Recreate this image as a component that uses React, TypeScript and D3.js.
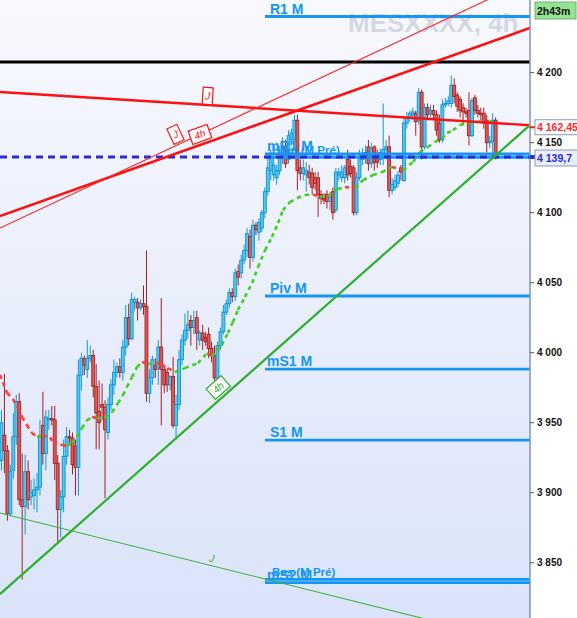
import React from 'react';
import * as d3 from 'd3';

// ---------- DATA ----------
// OHLC candles, 4h, [open, high, low, close]
const candles: [number, number, number, number][] = [
  [3923,3959,3916,3950],[3941,3985,3914,3930],[3930,3934,3880,3885],[3885,3920,3883,3915],
  [3916,3957,3910,3940],[3940,3970,3934,3965],[3965,3971,3891,3895],[3895,3928,3838,3890],
  [3890,3927,3870,3915],[3915,3923,3888,3895],[3897,3909,3891,3900],[3898,3910,3888,3902],
  [3902,3914,3886,3904],[3904,3952,3898,3941],[3948,3972,3920,3928],[3928,3959,3916,3954],
  [3952,3959,3945,3953],[3953,3962,3948,3952],[3952,3962,3909,3921],[3921,3927,3865,3888],
  [3888,3902,3868,3897],[3897,3938,3886,3926],[3926,3947,3920,3940],[3940,3945,3934,3939],
  [3939,3943,3913,3920],[3933,3938,3898,3918],[3918,3995,3898,3984],[3984,4000,3973,3996],
  [3996,3998,3984,3991],[3988,4009,3982,3996],[3996,4005,3993,3998],[3998,4002,3968,3976],
  [3976,3992,3931,3957],[3958,3980,3931,3950],[3963,3978,3952,3961],[3961,3966,3896,3945],
  [3943,3968,3938,3963],[3963,3981,3959,3977],[3977,3995,3970,3986],[3986,3993,3982,3990],
  [3990,3996,3982,3986],[3986,4009,3980,4004],[4004,4034,3998,4025],[4025,4035,4005,4010],
  [4010,4043,4009,4038],[4036,4040,4030,4038],[4036,4039,4023,4032],[4032,4038,4030,4035],
  [4035,4048,4027,4033],[4033,4073,3965,3971],[3971,3988,3964,3982],[3982,3998,3977,3995],
  [3991,3996,3982,3988],[3989,4009,3977,4004],[4004,4039,3948,3988],[3988,3991,3971,3977],
  [3986,3989,3972,3977],[3977,3984,3973,3983],[3983,3997,3946,3948],[3948,3970,3938,3963],
  [3963,4002,3959,3995],[3995,4013,3991,4009],[4009,4028,4005,4016],[4016,4030,4010,4020],
  [4023,4027,4005,4018],[4018,4030,4013,4023],[4025,4030,4002,4014],[4009,4016,4005,4014],
  [4014,4020,4002,4009],[4011,4015,4005,4008],[4013,4018,3996,4003],[4003,4008,3993,3998],
  [3998,4005,3980,3982],[3982,4008,3980,4005],[4005,4018,4002,4015],[4015,4034,4013,4029],
  [4029,4038,4027,4035],[4035,4046,4032,4043],[4043,4046,4036,4040],[4040,4060,4037,4057],
  [4058,4063,4048,4054],[4057,4070,4053,4066],[4066,4077,4063,4073],[4073,4089,4068,4085],
  [4083,4088,4060,4068],[4068,4095,4065,4091],[4091,4093,4084,4088],[4086,4096,4080,4093],
  [4089,4102,4086,4100],[4100,4118,4096,4115],[4115,4139,4112,4132],[4130,4145,4123,4139],
  [4127,4141,4123,4134],[4125,4134,4120,4130],[4130,4145,4127,4139],[4139,4154,4135,4147],
  [4147,4152,4132,4135],[4138,4159,4135,4155],[4152,4160,4148,4157],[4152,4170,4148,4166],
  [4166,4170,4116,4130],[4132,4138,4123,4128],[4128,4138,4123,4132],[4127,4136,4115,4130],
  [4129,4134,4120,4125],[4128,4132,4113,4118],[4125,4129,4116,4121],[4125,4129,4097,4113],
  [4113,4116,4106,4110],[4110,4114,4106,4109],[4113,4116,4103,4108],[4108,4115,4102,4111],
  [4115,4118,4095,4100],[4102,4132,4100,4129],[4127,4132,4123,4129],[4125,4134,4122,4129],
  [4125,4134,4121,4132],[4138,4145,4123,4127],[4133,4138,4125,4128],[4132,4134,4098,4100],
  [4100,4129,4098,4125],[4125,4145,4123,4139],[4138,4146,4134,4141],[4140,4148,4135,4143],
  [4147,4152,4130,4135],[4135,4150,4132,4146],[4147,4148,4130,4136],[4141,4145,4132,4136],
  [4138,4146,4134,4143],[4139,4178,4134,4145],[4145,4152,4138,4147],[4147,4155,4111,4116],
  [4116,4125,4113,4120],[4118,4127,4116,4123],[4121,4130,4118,4127],[4132,4134,4123,4129],
  [4123,4168,4122,4164],[4164,4172,4160,4168],[4168,4173,4165,4171],[4170,4175,4166,4172],
  [4171,4173,4155,4165],[4166,4189,4163,4186],[4186,4188,4138,4147],[4147,4178,4145,4175],
  [4175,4178,4166,4170],[4171,4177,4168,4173],[4173,4177,4166,4170],[4170,4173,4155,4159],
  [4164,4170,4150,4152],[4152,4181,4150,4177],[4177,4182,4175,4178],[4178,4183,4176,4180],
  [4178,4198,4175,4191],[4191,4196,4178,4183],[4184,4186,4172,4176],[4181,4183,4168,4173],
  [4175,4178,4163,4172],[4172,4175,4168,4171],[4173,4186,4148,4155],[4155,4182,4154,4180],
  [4182,4184,4170,4173],[4173,4177,4168,4171],[4171,4175,4166,4170],[4171,4175,4160,4164],
  [4166,4170,4143,4150],[4150,4155,4146,4151],[4151,4171,4139,4166],[4166,4168,4138,4139.75],
];

// moving average (bar index, value)
const maIndex = [-0.5,1.9,3.9,5.6,7.0,8.6,10.3,12.0,14.0,16.4,17.4,20.5,22.1,23.8,25.5,27.2,28.9,30.6,32.3,35.0,
  37.4,39.4,41.1,42.4,44.1,45.8,47.5,49.5,52.6,54.2,56.3,58.6,62.0,66.4,69.5,71.1,74.5,76.5,78.2,79.9,
  82.3,84.7,86.7,89.1,91.4,93.5,95.1,97.5,99.9,102.6,105.3,107.6,110.3,113.7,116.1,119.5,122.2,125.6,128.6,132.0,
  135.7,139.1,141.4,144.1,146.5,148.9,150.6,152.6,155.0,157.7,160.7,163.4,164.4,166.8];
const maValues = [3984.0,3971.2,3966.9,3960.5,3954.0,3948.3,3942.6,3939.8,3940.8,3939.5,3936.2,3934.0,3933.3,3935.5,3939.8,3946.2,3951.9,3954.0,3953.3,3953.6,
  3957.6,3964.0,3969.8,3975.5,3982.6,3989.8,3993.3,3991.9,3992.6,3991.2,3989.0,3986.2,3989.0,3992.6,3999.7,3997.6,4005.5,4014.0,4021.9,4030.5,
  4039.8,4049.8,4061.2,4073.3,4082.6,4092.6,4101.9,4107.6,4110.5,4112.6,4113.0,4111.2,4111.9,4116.9,4118.3,4117.6,4123.3,4126.9,4129.0,4132.6,
  4130.5,4136.2,4143.3,4146.9,4150.5,4153.3,4156.9,4159.0,4162.6,4164.0,4164.8,4165.2,4164.8,4165.5];

const yTicks = [3850, 3900, 3950, 4000, 4050, 4100, 4150, 4200];

const levelNames = ['R1 M', 'mR1 M', 'Haut (M Pré)', 'Piv M', 'mS1 M', 'S1 M', 'Bas (M Pré)', 'mS2 M'];
const levelValues = [4240.1, 4141.9, 4139.5, 4040.5, 3988.3, 3937.6, 3838.1, 3835.8];

const blackLevel = 4207.6;
const lastPrice = 4139.75;
const redLinePrice = 4162.45;
const timerText = '2h43m';
const title = 'MESXXXX, 4h';

// trendlines: [barIndex, price] anchors
const trendIds = ['redDown', 'redUpThick', 'redUpThin', 'greenUp', 'greenDown'];
const trendFrom: [number, number][] = [[-0.5, 4186.2], [-0.5, 4097.6], [-0.5, 4089.0], [-0.5, 3827.6], [-0.5, 3885.5]];
const trendTo: [number, number][] = [[178.6, 4162.45], [178.6, 4231.9], [164.1, 4251.9], [178.6, 4162.6], [178.6, 3791.2]];

// annotations on trendlines
const noteTrend = ['redDown', 'redUpThin', 'redUpThick', 'greenUp', 'greenDown'];
const noteBar = [69.5, 60.3, 68.2, 75.5, 70.5];
const noteText = ['J', 'J', '4h', '4h', 'J'];

// ---------- STYLE ----------
const W = 577, H = 618, AXIS_X = 530;
const trendStyle: Record<string, { color: string; width: number }> = {
  redDown: { color: '#ff1010', width: 2.4 },
  redUpThick: { color: '#ff1010', width: 2.6 },
  redUpThin: { color: '#ff2020', width: 1.1 },
  greenUp: { color: '#2fae2f', width: 2.2 },
  greenDown: { color: '#3cb43c', width: 1.1 },
};
const noteStyle = [
  { w: 10, h: 17, off: 9, box: true },
  { w: 11, h: 17, off: 10.5, box: true },
  { w: 20, h: 14, off: 10, box: true },
  { w: 20, h: 14, off: 10, box: true },
  { w: 0, h: 0, off: 7, box: false },
];
const levelColor = '#1496f5';
const font = 'Liberation Sans, Arial, sans-serif';

export default function App() {
  const x = d3.scaleLinear().domain([-0.5, 194.5]).range([0, W]);
  const y = d3.scaleLinear().domain([3810.5, 4251.9]).range([H, 0]);
  const xAxisIdx = x.invert(AXIS_X);

  const trendPts = (id: string) => {
    const k = trendIds.indexOf(id);
    const [i0, p0] = trendFrom[k];
    const [i1, p1] = trendTo[k];
    return { i0, p0, i1, p1 };
  };
  const trendLine = (id: string) => {
    const { i0, p0, i1, p1 } = trendPts(id);
    const slope = (p1 - p0) / (i1 - i0);
    const pe = p0 + slope * (xAxisIdx + 2 - i0);
    return { x1: x(i0), y1: y(p0), x2: x(xAxisIdx + 2), y2: y(pe) };
  };

  const maLine = d3.line<[number, number]>().x(d => x(d[0])).y(d => y(d[1]));
  const maSegs = maIndex.slice(1).map((idx, k) => {
    const a: [number, number] = [maIndex[k], maValues[k]];
    const b: [number, number] = [idx, maValues[k + 1]];
    return { d: maLine([a, b]) as string, up: b[1] >= a[1] };
  });

  const bodyW = 2.9;

  return (
    <svg width={W} height={H} style={{ position: 'fixed', left: 0, top: 0, fontFamily: font }}>
      <defs>
        <linearGradient id="bg" x1="0" y1="0" x2="0" y2="1">
          <stop offset="0" stopColor="#f8f9fe" />
          <stop offset="1" stopColor="#dae3f9" />
        </linearGradient>
        <clipPath id="plot">
          <rect x={0} y={0} width={AXIS_X} height={H} />
        </clipPath>
      </defs>
      <rect x={0} y={0} width={W} height={H} fill="#ffffff" />
      <rect x={0} y={0} width={AXIS_X} height={H} fill="url(#bg)" />

      <text x={348} y={32} fontSize={26} fontWeight="bold" fill="#d4d8e4">{title}</text>

      <g clipPath="url(#plot)">
        {/* candles */}
        {candles.map(([o, h, l, c], i) => {
          const up = c >= o;
          const cx = x(i);
          const top = y(Math.max(o, c));
          const bot = y(Math.min(o, c));
          return (
            <g key={i}>
              <line x1={cx} x2={cx} y1={y(h)} y2={y(l)} stroke={up ? '#0b9bd8' : '#a81e1e'} strokeWidth={1} />
              <rect x={cx - bodyW / 2} y={top} width={bodyW} height={Math.max(1, bot - top)}
                fill={up ? '#5cc3ee' : '#dc5a5a'} stroke={up ? '#0895d2' : '#a52020'} strokeWidth={0.9} />
            </g>
          );
        })}

        {/* moving average */}
        {maSegs.map((s, k) => (
          <path key={k} d={s.d} fill="none" stroke={s.up ? '#3fcf1f' : '#ff3b3b'} strokeWidth={2.6} strokeDasharray="4 4" />
        ))}

        {/* black level */}
        <line x1={0} x2={AXIS_X} y1={y(blackLevel)} y2={y(blackLevel)} stroke="#000" strokeWidth={3} />

        {/* pivot levels */}
        {levelNames.map((n, k) => (
          <line key={n} x1={265} x2={AXIS_X} y1={y(levelValues[k])} y2={y(levelValues[k])} stroke={levelColor} strokeWidth={2.8} />
        ))}

        {/* last price dashed */}
        <line x1={0} x2={AXIS_X} y1={y(lastPrice)} y2={y(lastPrice)} stroke="#2b2bd8" strokeWidth={3} strokeDasharray="7 5" />

        {/* trendlines */}
        {trendIds.map(id => {
          const l = trendLine(id);
          const st = trendStyle[id];
          return <line key={id} {...l} stroke={st.color} strokeWidth={st.width} />;
        })}

        {/* trendline notes */}
        {noteTrend.map((id, k) => {
          const { i0, p0, i1, p1 } = trendPts(id);
          const bi = noteBar[k];
          const bp = p0 + (p1 - p0) * (bi - i0) / (i1 - i0);
          const px = x(bi), py = y(bp);
          const ang = Math.atan2(y(p1) - y(p0), x(i1) - x(i0));
          const st = noteStyle[k];
          const nx = Math.sin(ang) * st.off, ny = -Math.cos(ang) * st.off;
          const col = trendStyle[id].color;
          const deg = (ang * 180) / Math.PI;
          return (
            <g key={k} transform={`translate(${px + nx},${py + ny}) rotate(${deg})`}>
              {st.box && <rect x={-st.w / 2} y={-st.h / 2} width={st.w} height={st.h} fill="#ffffff" stroke={col} strokeWidth={1.2} />}
              <text x={0} y={3.5} textAnchor="middle" fontSize={10} fontStyle="italic" fill={col}>{noteText[k]}</text>
            </g>
          );
        })}

        {/* level labels */}
        {levelNames.map((n, k) => {
          const small = n.includes('(');
          const lx = small ? 272 : n.startsWith('m') ? 267 : 270;
          return (
            <text key={n} x={lx} y={y(levelValues[k]) - (small ? 3.5 : 3)} fontSize={small ? 11.5 : 14}
              fontWeight="bold" fill={levelColor}>{n}</text>
          );
        })}
      </g>

      {/* axis */}
      <line x1={AXIS_X} x2={AXIS_X} y1={0} y2={H} stroke="#8595a6" strokeWidth={1.5} />
      {yTicks.map(t => (
        <g key={t}>
          <line x1={AXIS_X} x2={AXIS_X + 4} y1={y(t)} y2={y(t)} stroke="#555" strokeWidth={1} />
          <text x={AXIS_X + 7} y={y(t) + 3.5} fontSize={10} fontWeight="bold" fill="#111">
            {d3.format(',')(t).replace(',', ' ')}
          </text>
        </g>
      ))}

      {/* red trendline price label */}
      <line x1={AXIS_X} x2={AXIS_X + 5} y1={y(redLinePrice) + 2} y2={y(redLinePrice) + 2} stroke="#ff1010" strokeWidth={2} />
      <rect x={AXIS_X + 5} y={y(redLinePrice) - 5.5} width={46} height={15} fill="#ffffff" stroke="#8a9aae" strokeWidth={1} />
      <text x={AXIS_X + 7} y={y(redLinePrice) + 6} fontSize={10.5} fontWeight="bold" fill="#ff2a2a">
        {d3.format(',.2f')(redLinePrice).replace(',', ' ').replace('.', ',')}
      </text>

      {/* last price label */}
      <rect x={AXIS_X} y={y(lastPrice) - 2} width={5} height={4} fill="#2b2bd8" />
      <rect x={AXIS_X + 5} y={y(lastPrice) - 7} width={46} height={16} fill="#e9edfb" stroke="#8a9aae" strokeWidth={1} />
      <text x={AXIS_X + 7} y={y(lastPrice) + 5} fontSize={10.5} fontWeight="bold" fill="#2b2bd8">
        {d3.format(',.1f')(Math.floor(lastPrice * 10) / 10).replace(',', ' ').replace('.', ',')}
      </text>

      {/* timer */}
      <rect x={AXIS_X + 5} y={2} width={41} height={17} fill="#93e393" stroke="#6fb56f" strokeWidth={1} />
      <text x={AXIS_X + 7} y={14.5} fontSize={10.5} fontWeight="bold" fill="#111">{timerText}</text>
    </svg>
  );
}
